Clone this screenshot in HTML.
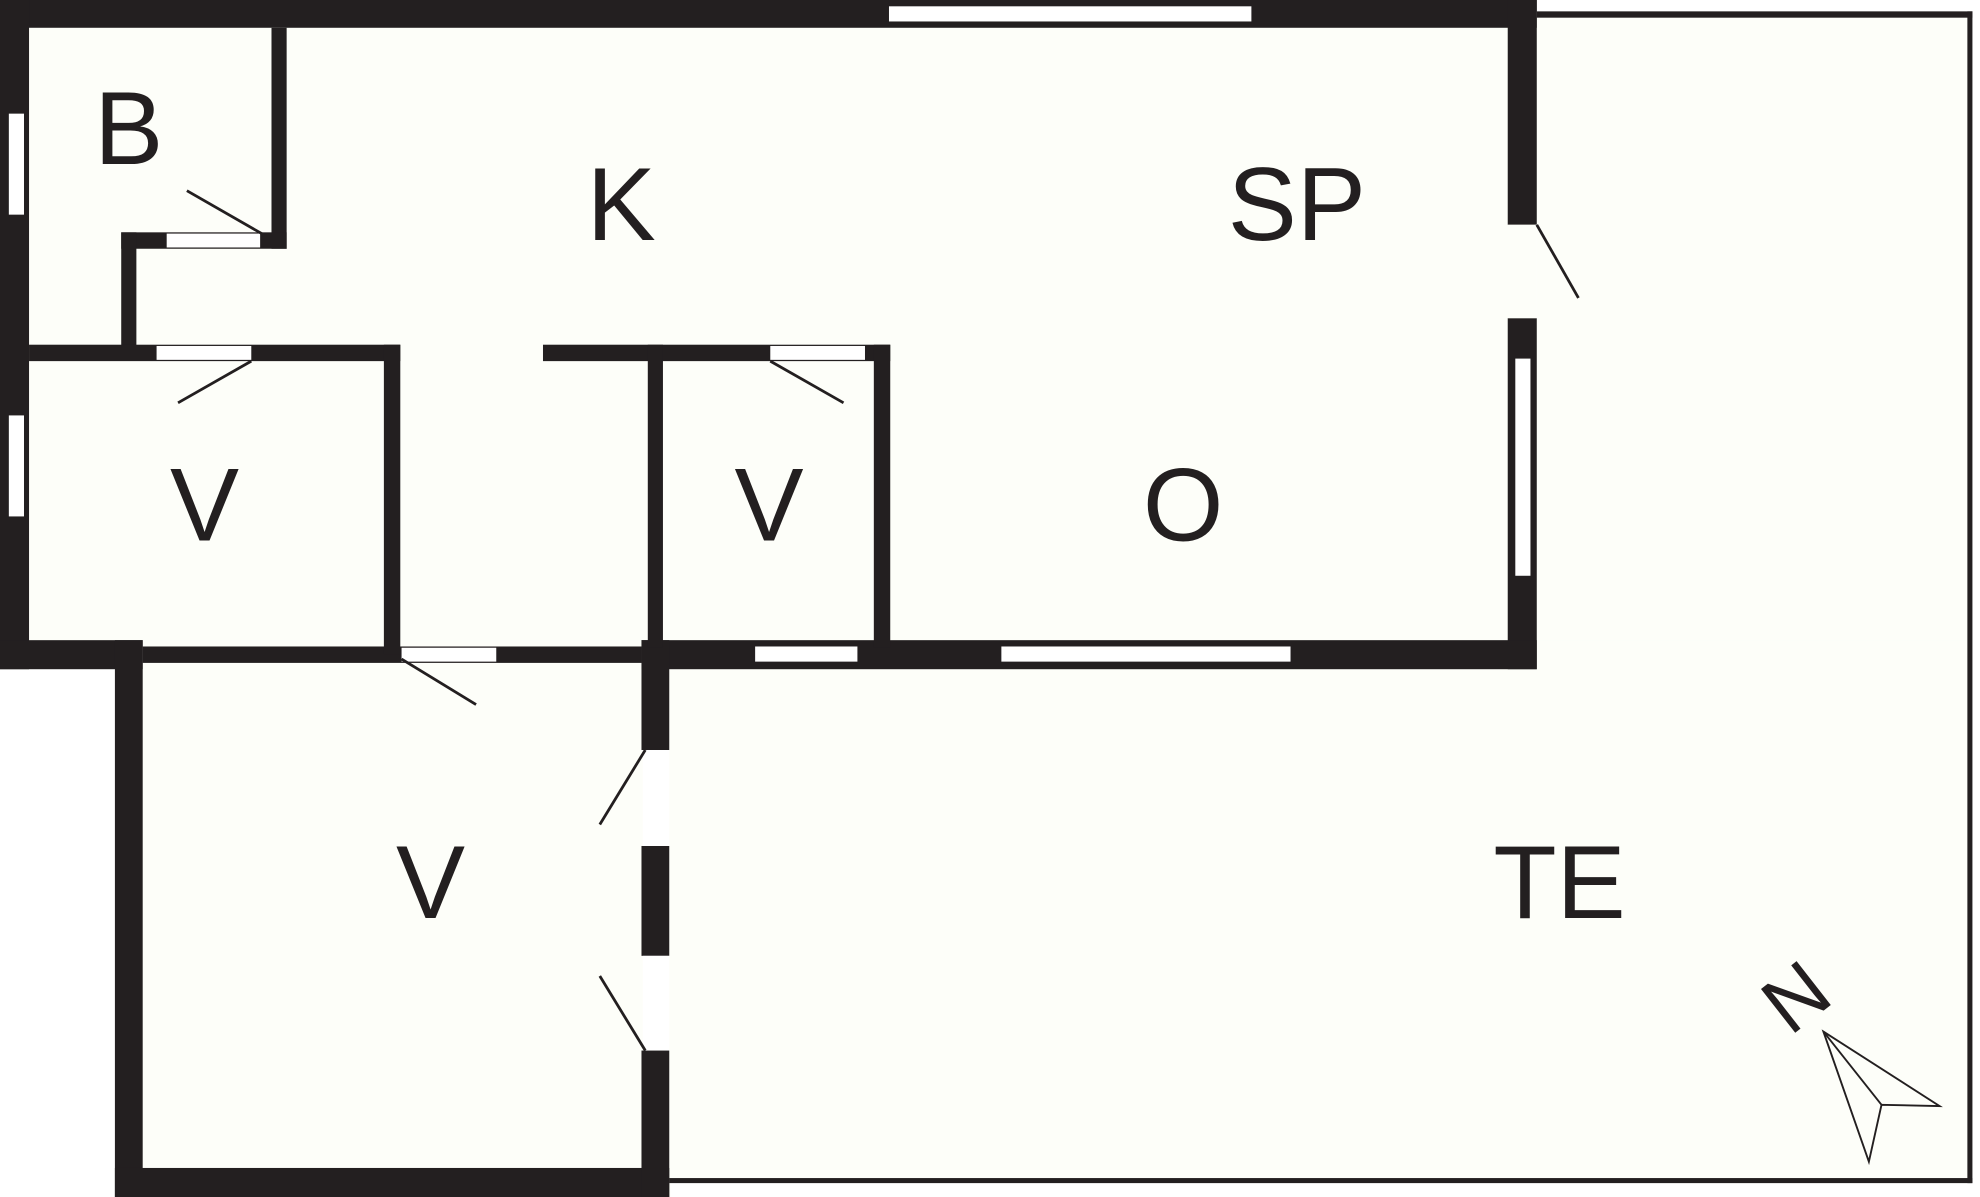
<!DOCTYPE html>
<html><head><meta charset="utf-8"><style>
html,body{margin:0;padding:0;background:#fff;}
svg{display:block;}
text{font-family:"Liberation Sans",sans-serif;fill:#231f20;font-size:82px;text-anchor:middle;}
</style></head><body>
<svg width="1980" height="1197" viewBox="0 0 1568 948" preserveAspectRatio="none" xmlns="http://www.w3.org/2000/svg">
<rect x="0" y="0" width="1568" height="948" fill="#ffffff"/>
<!-- floor fills -->
<rect x="0" y="0" width="1217" height="530" fill="#fdfef9"/>
<rect x="91" y="507" width="440" height="441" fill="#fdfef9"/>
<rect x="1217" y="10" width="345" height="927" fill="#fdfef9"/>
<rect x="530" y="507" width="1032" height="430" fill="#fdfef9"/>
<g fill="#231f20">
<!-- terrace outline -->
<rect x="1217" y="9" width="345" height="5"/>
<rect x="1558" y="9" width="4" height="928"/>
<rect x="530" y="933" width="1032" height="4"/>
<!-- outer walls -->
<rect x="0" y="0" width="1217" height="22"/>
<rect x="0" y="0" width="23" height="530"/>
<rect x="1194" y="0" width="23" height="178"/>
<rect x="1194" y="252" width="23" height="278"/>
<rect x="0" y="507" width="113" height="23"/>
<rect x="508" y="507" width="709" height="23"/>
<rect x="113" y="512" width="395" height="13"/>
<rect x="91" y="507" width="22" height="441"/>
<rect x="91" y="925" width="439" height="23"/>
<rect x="508" y="507" width="22" height="87"/>
<rect x="508" y="670" width="22" height="87"/>
<rect x="508" y="832" width="22" height="116"/>
<!-- interior -->
<rect x="215" y="22" width="12" height="175"/>
<rect x="96" y="184" width="131" height="13"/>
<rect x="96" y="184" width="12" height="95"/>
<rect x="23" y="273" width="294" height="13"/>
<rect x="304" y="273" width="13" height="245"/>
<rect x="430" y="273" width="275" height="13"/>
<rect x="513" y="273" width="12" height="240"/>
<rect x="692" y="273" width="13" height="240"/>
</g>
<!-- door gaps & windows -->
<g fill="#ffffff">
<rect x="704" y="5" width="287" height="12"/>
<rect x="7" y="90" width="12" height="80"/>
<rect x="7" y="329" width="12" height="80"/>
<rect x="1200" y="284" width="12" height="172"/>
<rect x="598" y="512" width="81" height="12"/>
<rect x="793" y="512" width="229" height="12"/>
<rect x="132" y="185" width="74" height="11"/>
<rect x="124" y="274" width="75" height="11"/>
<rect x="610" y="274" width="75" height="11"/>
<rect x="318" y="513" width="75" height="11"/>
<rect x="1194" y="178" width="23" height="74" fill="#fdfef9"/>
<rect x="509" y="594" width="21" height="76"/>
<rect x="509" y="757" width="21" height="75"/>
</g>
<g stroke="#231f20" stroke-width="2.2" fill="none">
<line x1="148" y1="151" x2="209" y2="186"/>
<line x1="199" y1="286" x2="141" y2="319"/>
<line x1="610" y1="286" x2="668" y2="319"/>
<line x1="318" y1="522" x2="377" y2="558"/>
<line x1="511" y1="594" x2="475" y2="653"/>
<line x1="511" y1="832" x2="475" y2="773"/>
<line x1="1217" y1="178" x2="1250" y2="236"/>
</g>
<!-- north arrow -->
<g stroke="#231f20" stroke-width="1.5" fill="none">
<polygon points="1444,817 1536,876 1490,875 1480,920"/>
<line x1="1444" y1="817" x2="1490" y2="875"/>
</g>
<text x="1421" y="812" transform="rotate(-38 1421 788)" font-size="64" style="font-size:64px">N</text>
<text x="102" y="130">B</text>
<text x="492" y="190">K</text>
<text x="1027" y="190">SP</text>
<text x="162" y="428">V</text>
<text x="609" y="428">V</text>
<text x="937" y="428">O</text>
<text x="341" y="727">V</text>
<text x="1235" y="727">TE</text>
</svg>
</body></html>
